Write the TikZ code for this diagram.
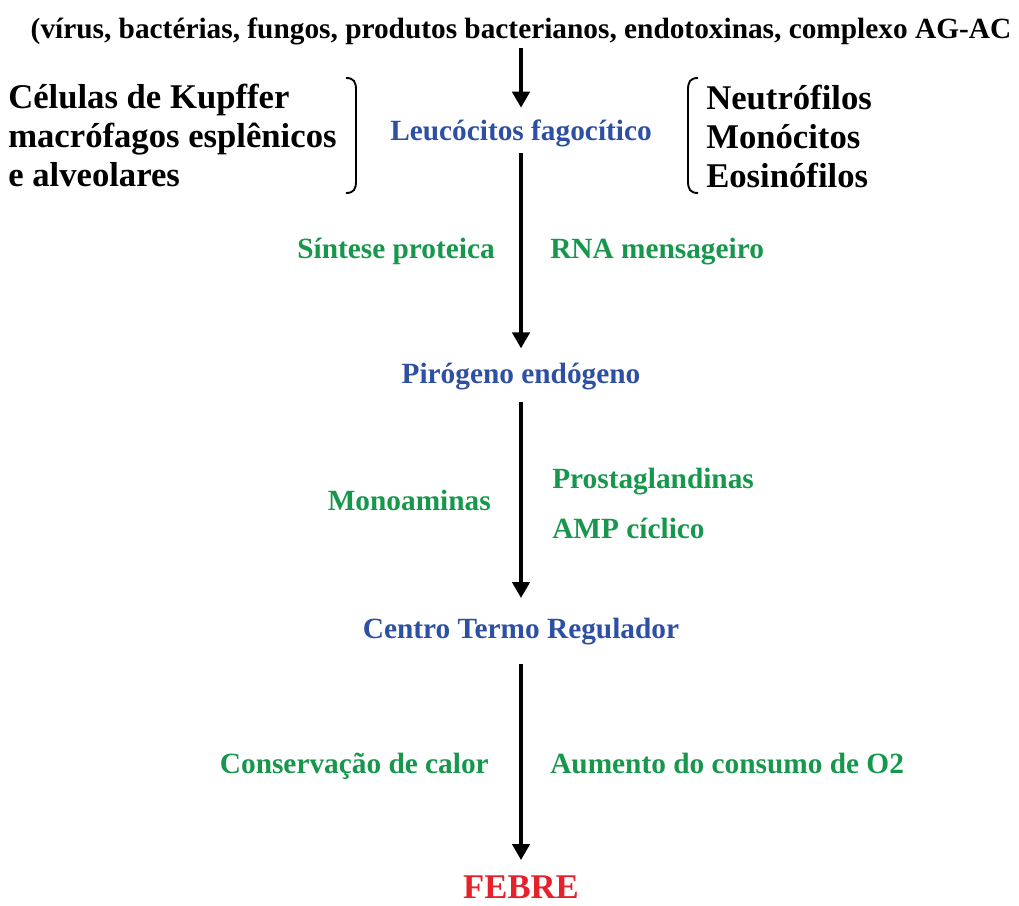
\documentclass[tikz,border=0pt]{standalone}
\usepackage{fontspec}
\setmainfont{Liberation Serif}
\usetikzlibrary{positioning,arrows.meta}
\definecolor{febblue}{HTML}{2E50A2}
\definecolor{febgreen}{HTML}{16974B}
\definecolor{febred}{HTML}{E6212A}

\begin{document}
\begin{tikzpicture}[x=0.75pt, y=-0.75pt,
    every node/.style={inner sep=0pt, font=\bfseries\fontsize{22}{26}\selectfont},
    stage/.style={text=febblue},
    factor/.style={text=febgreen},
    celllist/.style={align=left, anchor=base west, font=\bfseries\fontsize{26}{29.25}\selectfont},
    flow/.style={-{Triangle[length=12pt, width=13pt]}, line width=2.7pt},
    brace/.style={line width=1.4pt}]
        \useasboundingbox (0,0) rectangle (1019,905);
        % main chain
        \node[anchor=base] (agents) at (521,39) {(vírus, bactérias, fungos, produtos bacterianos, endotoxinas, complexo AG-AC};
        \node[stage, anchor=base] (leuco) at (521,141) {Leucócitos fagocítico};
        \node[stage, anchor=base] (pirog) at (521,383) {Pirógeno endógeno};
        \node[stage, anchor=base] (centro) at (521,638) {Centro Termo Regulador};
        \node[anchor=base, text=febred, font=\bfseries\fontsize{26}{30}\selectfont] (febre) at (521,898) {FEBRE};
        \draw[flow, shorten <=7pt, shorten >=25pt] (agents.base) -- (leuco.base);
        \draw[flow, shorten <=9pt, shorten >=26pt] (leuco.base) -- (pirog.base);
        \draw[flow, shorten <=14.5pt, shorten >=30pt] (pirog.base) -- (centro.base);
        \draw[flow, shorten <=19.5pt, shorten >=28.5pt] (centro.base) -- (febre.base);
        % cells (base = last line)
        \node[celllist] (kupffer) at (8,187) {Células de Kupffer\\macrófagos esplênicos\\e alveolares};
        \node[celllist] (granul) at (706,188) {Neutrófilos\\Monócitos\\Eosinófilos};
        \draw[brace] (346,78) .. controls (354,78) and (356,82) .. (356,90) -- (356,181) .. controls (356,189) and (354,193) .. (346,193);
        \draw[brace] (698,78) .. controls (690,78) and (688,82) .. (688,90) -- (688,181) .. controls (688,189) and (690,193) .. (698,193);
        % mediators
        \node[factor, anchor=base east] (sintese) at (495,258) {Síntese proteica};
        \node[factor, anchor=base west] (rna) at (550,258) {RNA mensageiro};
        \node[factor, anchor=base east] (mono) at (491,510) {Monoaminas};
        \node[factor, anchor=base west] (prosta) at (552,488) {Prostaglandinas};
        \node[factor, anchor=base west] (amp) at (552,538) {AMP cíclico};
        \node[factor, anchor=base east] (conserv) at (489,773) {Conservação de calor};
        \node[factor, anchor=base west] (consumo) at (550,773) {Aumento do consumo de O2};
      \end{tikzpicture}
\end{document}
